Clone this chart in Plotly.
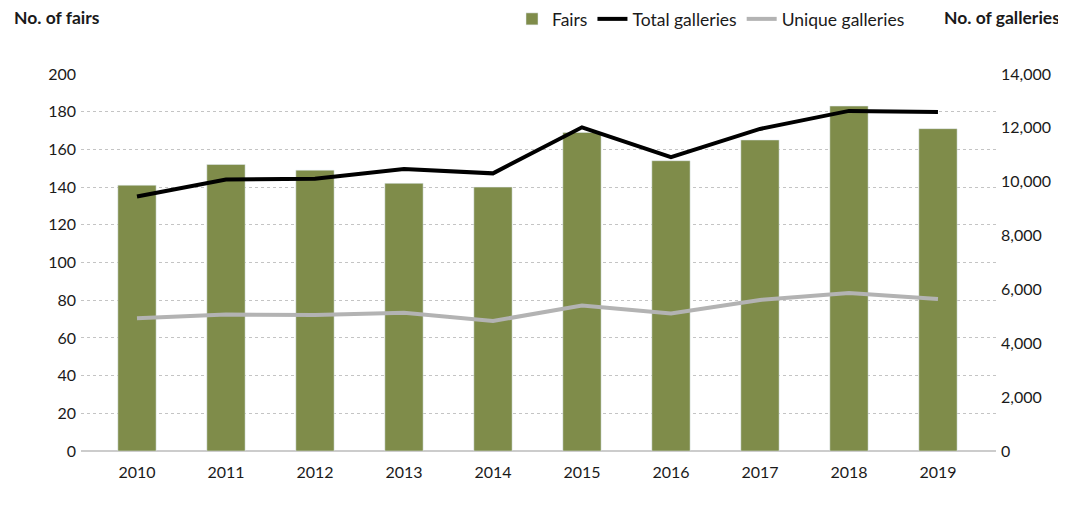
import plotly.graph_objects as go

years = ["2010", "2011", "2012", "2013", "2014", "2015", "2016", "2017", "2018", "2019"]
fairs = [141, 152, 149, 142, 140, 169, 154, 165, 183, 171]
total_galleries = [9450, 10080, 10110, 10470, 10310, 12020, 10910, 11960, 12630, 12590]
unique_galleries = [4930, 5070, 5050, 5130, 4830, 5400, 5110, 5610, 5870, 5640]

FONT = "Lato"
OFF = 8  # page body margin offset
W, H = 1066 - OFF, 515 - OFF
L, T = 81 - OFF, 74 - OFF
pw, ph = 915, 377
R = W - L - pw
B = H - T - ph


def px_x(px):
    return (px - OFF - L) / pw


def px_y(py):
    return (T + ph - (py - OFF)) / ph


fig = go.Figure()
fig.add_trace(go.Bar(x=years, y=fairs, name="Fairs", marker_color="#7f8c4a",
                     width=0.43, yaxis="y"))
fig.add_trace(go.Scatter(x=years, y=total_galleries, name="Total galleries", mode="lines",
                         line=dict(color="#000000", width=4), yaxis="y2"))
fig.add_trace(go.Scatter(x=years, y=unique_galleries, name="Unique galleries", mode="lines",
                         line=dict(color="#b3b3b3", width=4), yaxis="y2"))

fig.update_layout(
    width=W, height=H,
    margin=dict(l=L, r=R, t=T, b=B, autoexpand=False),
    paper_bgcolor="white", plot_bgcolor="white",
    font=dict(family=FONT, size=16, color="#1a1a1a"),
    showlegend=True,
    legend=dict(orientation="h", x=px_x(910), xanchor="right", y=px_y(19), yref="paper",
                yanchor="middle", font=dict(size=17.5), itemwidth=30, tracegroupgap=0,
                bgcolor="rgba(0,0,0,0)"),
    xaxis=dict(type="category", range=[-0.629, 9.652], showgrid=False,
               showline=False, ticks="", ticklabelstandoff=10, tickfont=dict(size=16)),
    yaxis=dict(range=[0, 200], dtick=20, showgrid=True, gridcolor="#c4c4c4",
               griddash="dot", gridwidth=1, zeroline=True, zerolinecolor="#cccccc",
               zerolinewidth=1.5, showline=False, ticks="", ticklabelstandoff=4,
               tickfont=dict(size=16)),
    yaxis2=dict(range=[0, 14000], dtick=2000, overlaying="y", side="right",
                showgrid=False, zeroline=False, showline=False, ticks="",
                tickformat=",", ticklabelstandoff=4, tickfont=dict(size=16)),
)

fig.add_annotation(text="<b>No. of fairs</b>", x=px_x(12), y=px_y(18), xref="paper", yref="paper",
                   showarrow=False, xanchor="left", yanchor="middle", font=dict(size=17.5))
fig.add_annotation(text="<b>No. of galleries</b>", x=px_x(1062), y=px_y(18), xref="paper", yref="paper",
                   showarrow=False, xanchor="right", yanchor="middle", font=dict(size=17.5))

fig.write_html("out.html")
